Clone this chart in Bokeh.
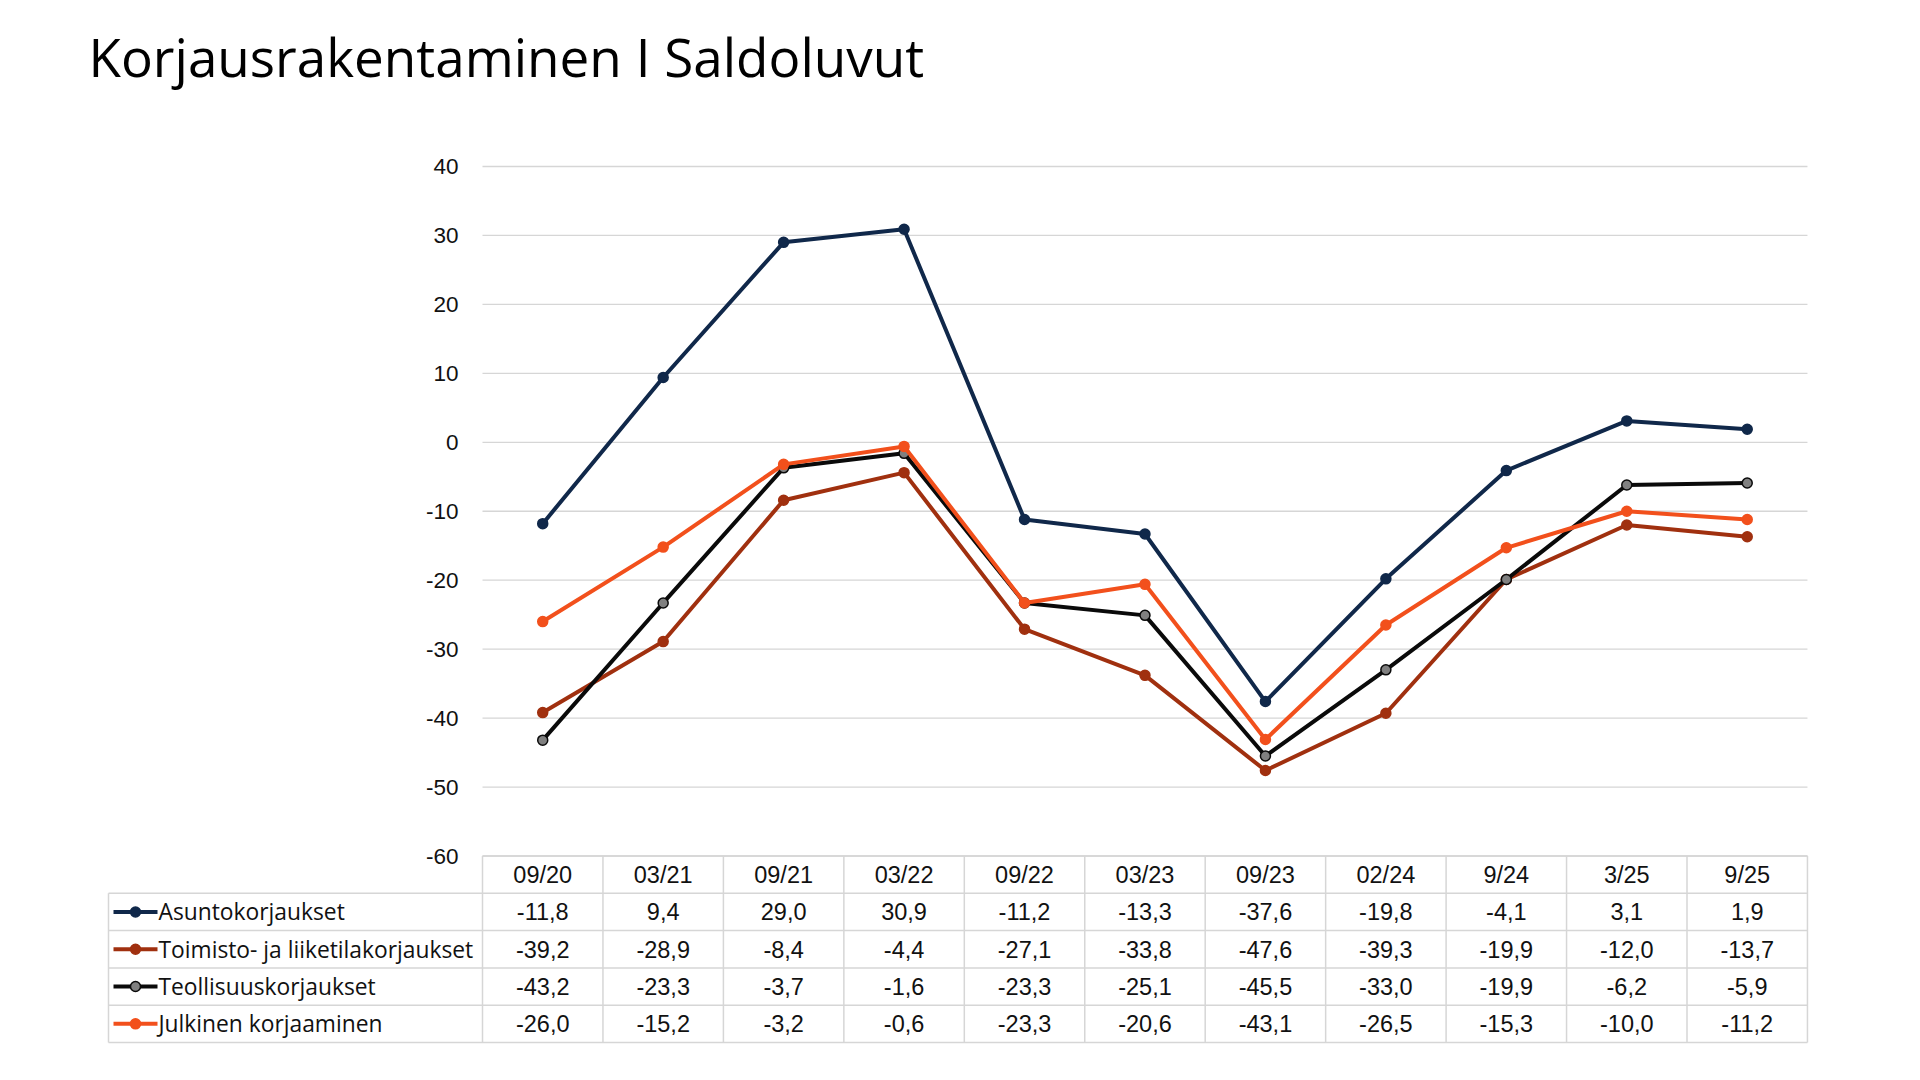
import numpy as np
from bokeh.plotting import figure
from bokeh.models import Range1d
from bokeh.embed import file_html
from bokeh.resources import INLINE
from bokeh.core.properties import value

# ---------------- data ----------------
categories = ["09/20", "03/21", "09/21", "03/22", "09/22", "03/23", "09/23", "02/24", "9/24", "3/25", "9/25"]
asuntokorjaukset = [-11.8, 9.4, 29.0, 30.9, -11.2, -13.3, -37.6, -19.8, -4.1, 3.1, 1.9]
toimisto = [-39.2, -28.9, -8.4, -4.4, -27.1, -33.8, -47.6, -39.3, -19.9, -12.0, -13.7]
teollisuus = [-43.2, -23.3, -3.7, -1.6, -23.3, -25.1, -45.5, -33.0, -19.9, -6.2, -5.9]
julkinen = [-26.0, -15.2, -3.2, -0.6, -23.3, -20.6, -43.1, -26.5, -15.3, -10.0, -11.2]
series_names = ["Asuntokorjaukset", "Toimisto- ja liiketilakorjaukset", "Teollisuuskorjaukset", "Julkinen korjaaminen"]
y_ticks = [-60, -50, -40, -30, -20, -10, 0, 10, 20, 30, 40]
title_text = "Korjausrakentaminen I Saldoluvut"

series = [asuntokorjaukset, toimisto, teollisuus, julkinen]
line_colors = ["#10284a", "#a0300f", "#0a0a0a", "#f2501c"]
fill_colors = ["#10284a", "#a0300f", "#808080", "#f2501c"]

NUM_FONT = value("Liberation Sans")
NAME_FONT = value("Open Sans")
TXT = "#111111"
GRID = "#d6d6d6"

# ---------------- layout geometry (pixels) ----------------
W, H = 1904, 1064
col_px = 120.45            # width of one category column
table_left = 108           # left edge of the table
chart_left = 482           # left edge of the plotting area
chart_right = chart_left + 11 * col_px
top_px = 166               # pixel row of the top gridline
bottom_px = 855.5          # pixel row of the bottom gridline / table top
py = (bottom_px - top_px) / (y_ticks[-1] - y_ticks[0])
row_px = 37.3

n = len(categories)
L = (chart_left - table_left) / col_px
xc = np.arange(n) + 0.5

p = figure(width=W, height=H,
           x_range=Range1d(-(chart_left) / col_px, n + (W - chart_right) / col_px),
           y_range=Range1d(y_ticks[0] - (H - bottom_px) / py, y_ticks[-1] + top_px / py),
           output_backend="svg", toolbar_location=None,
           min_border_left=0, min_border_right=0, min_border_top=0, min_border_bottom=0)
p.extra_y_ranges = {"table": Range1d(start=(H - bottom_px) / row_px, end=-bottom_px / row_px)}
p.outline_line_color = None
p.axis.visible = False
p.grid.visible = False

# title
p.text(x=[(88 - chart_left) / col_px], y=[y_ticks[-1] + (top_px - 56) / py], text=[title_text],
       text_align="left", text_baseline="alphabetic", text_font=value("Open Sans"),
       text_font_size="53px", text_color="#000000")

# chart grid lines and y tick labels
p.segment(x0=[0] * len(y_ticks), x1=[n] * len(y_ticks), y0=y_ticks, y1=y_ticks,
          line_color=GRID, line_width=1.3)
p.text(x=[-24 / col_px] * len(y_ticks), y=y_ticks, text=[str(v) for v in y_ticks],
       text_align="right", text_baseline="middle", text_font=NUM_FONT,
       text_font_size="22.5px", text_color=TXT)

# series
for vals, lc, fc in zip(series, line_colors, fill_colors):
    p.line(x=xc, y=vals, line_width=4, line_color=lc)
    p.scatter(x=xc, y=vals, size=10, fill_color=fc, line_color=lc, line_width=1.5)

# ---------------- table ----------------
hx0 = [0.0] + [-L] * 5
hx1 = [float(n)] * 6
hy = [0, 1, 2, 3, 4, 5]
p.segment(x0=hx0, y0=hy, x1=hx1, y1=hy, line_color=GRID, line_width=1.5, y_range_name="table")
vx = list(range(n + 1)) + [-L]
vy0 = [0] * (n + 1) + [1]
vy1 = [5] * (n + 2)
p.segment(x0=vx, y0=vy0, x1=vx, y1=vy1, line_color=GRID, line_width=1.5, y_range_name="table")

p.text(x=xc, y=[0.5] * n, text=categories, text_align="center", text_baseline="middle",
       text_font=NUM_FONT, text_font_size="23.5px", text_color=TXT, y_range_name="table")

def fmt(v):
    return f"{v:.1f}".replace(".", ",")

for r, (name, vals, lc, fc) in enumerate(zip(series_names, series, line_colors, fill_colors)):
    yy = r + 1.5
    p.text(x=xc, y=[yy] * n, text=[fmt(v) for v in vals], text_align="center",
           text_baseline="middle", text_font=NUM_FONT, text_font_size="23.5px",
           text_color=TXT, y_range_name="table")
    p.line(x=[-L + 5 / col_px, -L + 49 / col_px], y=[yy, yy], line_width=4,
           line_color=lc, y_range_name="table")
    p.scatter(x=[-L + 27 / col_px], y=[yy], size=10, fill_color=fc, line_color=lc,
              line_width=1.5, y_range_name="table")
    p.text(x=[-L + 50 / col_px], y=[yy], text=[name], text_align="left", text_baseline="middle",
           text_font=NAME_FONT, text_font_size="22.8px", text_color=TXT, y_range_name="table")

open("out.html", "w").write(file_html(p, INLINE))
